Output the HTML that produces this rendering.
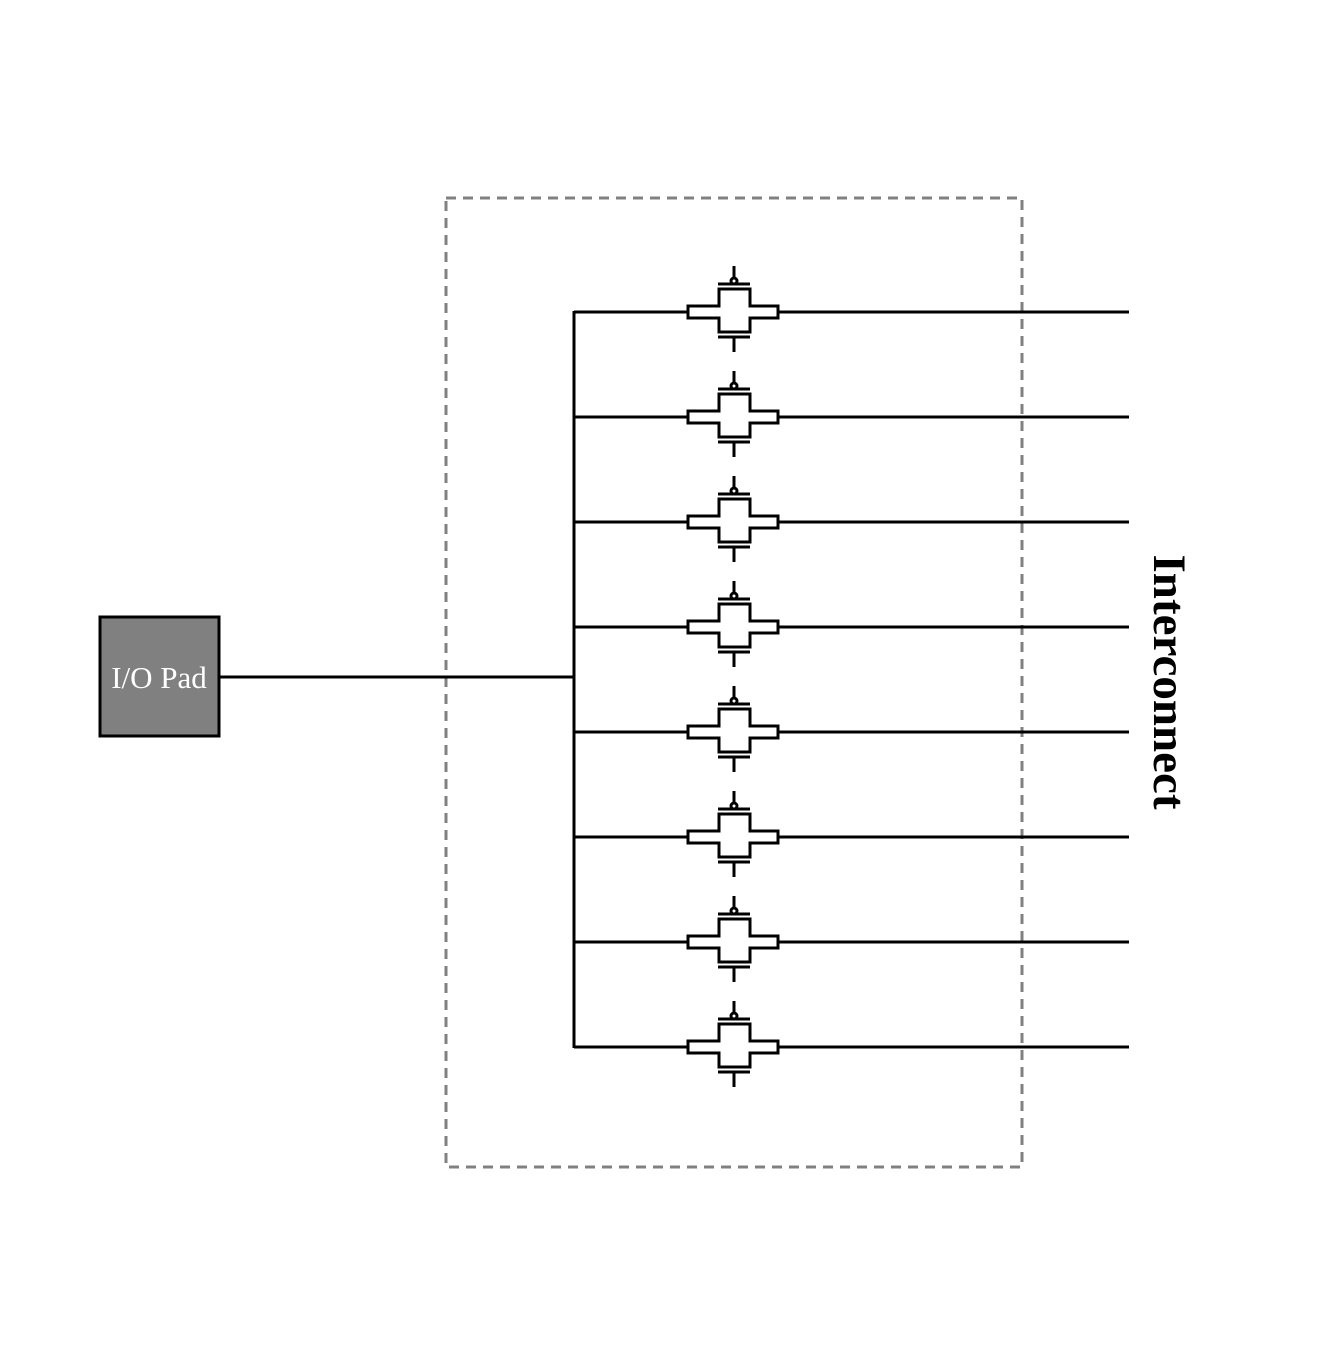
<!DOCTYPE html>
<html><head><style>body{margin:0;background:#fff}</style></head><body>
<svg width="1344" height="1344" viewBox="0 0 1344 1344" xmlns="http://www.w3.org/2000/svg">
<defs>
<g id="tg" fill="none" stroke="#000" stroke-width="3">
<path d="M688,-6 H719 V-23 H750 V-6 H778 V6 H750 V20 H719 V6 H688 Z"/>
<line x1="718" y1="-28" x2="750" y2="-28"/>
<line x1="718" y1="25" x2="750" y2="25"/>
<line x1="734" y1="25" x2="734" y2="40"/>
<circle cx="734" cy="-31" r="3"/>
<line x1="734" y1="-34" x2="734" y2="-46"/>
</g>
</defs>
<rect x="446" y="198" width="576" height="969" fill="none" stroke="#808080" stroke-width="3" stroke-dasharray="10,7"/>
<rect x="100" y="617" width="119" height="119" fill="#808080" stroke="#000" stroke-width="3"/>
<text x="159" y="688" text-anchor="middle" font-family="Liberation Serif, serif" font-size="31" fill="#fff">I/O Pad</text>
<g stroke="#000" stroke-width="3">
<line x1="219" y1="677" x2="574" y2="677"/>
<line x1="574" y1="311" x2="574" y2="1048"/>
</g>
<g stroke="#000" stroke-width="3">
<line x1="574" y1="312" x2="688" y2="312"/><line x1="778" y1="312" x2="1129" y2="312"/>
<line x1="574" y1="417" x2="688" y2="417"/><line x1="778" y1="417" x2="1129" y2="417"/>
<line x1="574" y1="522" x2="688" y2="522"/><line x1="778" y1="522" x2="1129" y2="522"/>
<line x1="574" y1="627" x2="688" y2="627"/><line x1="778" y1="627" x2="1129" y2="627"/>
<line x1="574" y1="732" x2="688" y2="732"/><line x1="778" y1="732" x2="1129" y2="732"/>
<line x1="574" y1="837" x2="688" y2="837"/><line x1="778" y1="837" x2="1129" y2="837"/>
<line x1="574" y1="942" x2="688" y2="942"/><line x1="778" y1="942" x2="1129" y2="942"/>
<line x1="574" y1="1047" x2="688" y2="1047"/><line x1="778" y1="1047" x2="1129" y2="1047"/>
</g>
<use href="#tg" y="312"/><use href="#tg" y="417"/><use href="#tg" y="522"/><use href="#tg" y="627"/>
<use href="#tg" y="732"/><use href="#tg" y="837"/><use href="#tg" y="942"/><use href="#tg" y="1047"/>
<text transform="translate(1154,682) rotate(90)" text-anchor="middle" font-family="Liberation Serif, serif" font-weight="bold" font-size="47" fill="#000">Interconnect</text>
</svg>
</body></html>
